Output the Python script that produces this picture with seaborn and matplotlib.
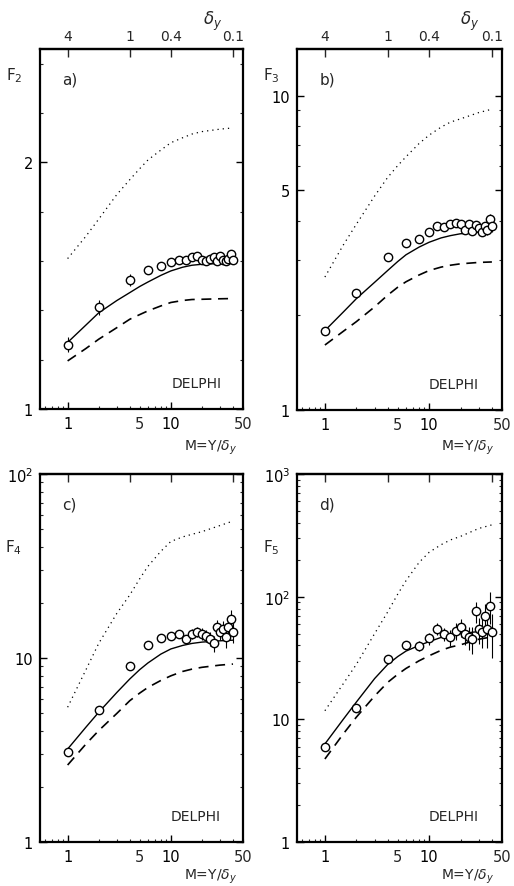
import numpy as np
import pandas as pd
import matplotlib
matplotlib.use("Agg")
import matplotlib.pyplot as plt
import matplotlib.ticker as mticker
import seaborn as sns

sns.set_style("ticks")
plt.rcParams['font.family'] = ['DejaVu Sans']
plt.rcParams['mathtext.fontset'] = 'dejavusans'

# ---------------- data ----------------
M_data = [1, 2, 4, 6, 8, 10, 12, 14, 16, 18, 20, 22, 24, 26, 28, 30, 32, 34, 36, 38, 40]
M_curve = [1, 1.5, 2, 3, 4, 5, 6, 8, 10, 13, 16, 20, 30, 40]

F2_data = [1.26, 1.412, 1.522, 1.564, 1.58, 1.596, 1.606, 1.606, 1.615, 1.62, 1.605,
           1.60, 1.61, 1.615, 1.60, 1.62, 1.605, 1.60, 1.61, 1.63, 1.605]
F2_err = [0.03, 0.03, 0.025, 0.01, 0.01, 0.01, 0.01, 0.01, 0.01, 0.01, 0.01,
          0.01, 0.01, 0.01, 0.012, 0.012, 0.012, 0.012, 0.013, 0.013, 0.013]
F2_solid = [1.27, 1.34, 1.39, 1.44, 1.472, 1.497, 1.515, 1.542, 1.56, 1.575, 1.583, 1.587, 1.59, 1.59]
F2_dashed = [1.195, 1.245, 1.283, 1.33, 1.364, 1.383, 1.398, 1.418, 1.432, 1.44, 1.444, 1.445, 1.447, 1.448]
F2_dotted = [1.61, 1.70, 1.77, 1.87, 1.93, 1.975, 2.01, 2.05, 2.08, 2.10, 2.115, 2.125, 2.135, 2.14]

F3_data = [1.78, 2.36, 3.07, 3.41, 3.51, 3.70, 3.85, 3.82, 3.92, 3.95, 3.92,
           3.75, 3.90, 3.72, 3.88, 3.80, 3.70, 3.85, 3.75, 4.06, 3.85]
F3_err = [0.03, 0.04, 0.05, 0.06, 0.07, 0.07, 0.08, 0.08, 0.09, 0.09, 0.1,
          0.1, 0.11, 0.11, 0.12, 0.12, 0.13, 0.13, 0.14, 0.15, 0.15]
F3_solid = [1.79, 2.05, 2.26, 2.55, 2.78, 2.97, 3.12, 3.3, 3.42, 3.53, 3.59, 3.64, 3.68, 3.70]
F3_dashed = [1.61, 1.78, 1.91, 2.13, 2.32, 2.46, 2.56, 2.69, 2.78, 2.85, 2.89, 2.92, 2.95, 2.96]
F3_dotted = [2.65, 3.35, 3.9, 4.8, 5.5, 6.0, 6.4, 7.05, 7.5, 7.95, 8.25, 8.45, 8.85, 9.07]

F4_data = [3.07, 5.22, 9.0, 11.8, 12.8, 13.2, 13.5, 12.7, 13.5, 13.9, 13.5,
           13.2, 12.7, 12.0, 14.7, 13.9, 14.3, 13.0, 14.8, 16.3, 13.8]
F4_err = [0.1, 0.15, 0.25, 0.35, 0.45, 0.5, 0.6, 0.7, 0.8, 0.9, 1.0,
          1.0, 1.1, 1.2, 1.3, 1.4, 1.5, 1.6, 1.7, 1.9, 1.8]
F4_solid = [3.2, 4.2, 5.07, 6.5, 7.69, 8.65, 9.4, 10.5, 11.2, 11.7, 12.0, 12.2, 12.4, 12.5]
F4_dashed = [2.62, 3.4, 4.03, 5.0, 5.86, 6.45, 6.92, 7.55, 8.0, 8.45, 8.7, 8.9, 9.15, 9.27]
F4_dotted = [5.4, 8.6, 12.0, 17.5, 22, 27, 31.5, 38, 43, 45.5, 47, 48.6, 52.5, 55.5]

F5_data = [5.9, 12.3, 31, 40.5, 39.8, 45.7, 54.5, 49.6, 46.5, 52.7, 56.2,
           49.6, 47, 45.1, 75.9, 54.5, 52, 69.8, 54.5, 84.3, 51.8]
F5_err = [0.3, 0.6, 2, 3, 4, 5, 6, 6, 7, 8, 9,
          9, 10, 11, 15, 13, 14, 17, 16, 24, 20]
F5_solid = [6.3, 10.0, 13.8, 21.5, 28, 32.5, 36, 40, 43, 46.5, 48.5, 50, 52, 53]
F5_dashed = [4.75, 7.6, 10.4, 15.5, 20, 23.3, 26, 30, 33, 36.5, 38.8, 40.5, 45, 47]
F5_dotted = [11.75, 19.5, 28, 50, 75, 105, 135, 190, 230, 265, 290, 310, 360, 385]

bottom_major = [1, 10]
bottom_labels = {1: '1', 5: '5', 10: '10', 50: '50'}
bottom_minor = [0.6, 0.7, 0.8, 0.9, 2, 3, 4, 5, 6, 7, 8, 9, 20, 30, 40, 50]
delta_pos = [1, 4, 10, 40]          # M positions of delta_y ticks (Y = 4)
delta_labels = ['4', '1', '0.4', '0.1']

panels = [
    dict(tag='a)', data=F2_data, err=F2_err, solid=F2_solid, dashed=F2_dashed,
         dotted=F2_dotted, yscale='linear', ylim=(1, 2.46), yt=[1, 2], ytl=['1', '2'],
         minor=[1.2, 1.4, 1.6, 1.8, 2.2, 2.4], top_labels=True, delphi_x=0.897),
    dict(tag='b)', data=F3_data, err=F3_err, solid=F3_solid, dashed=F3_dashed,
         dotted=F3_dotted, yscale='log', ylim=(1, 14.1), yt=[1, 5, 10], ytl=['1', '5', '10'],
         minor=[2, 3, 4, 6, 7, 8, 9], top_labels=True, delphi_x=0.888),
    dict(tag='c)', data=F4_data, err=F4_err, solid=F4_solid, dashed=F4_dashed,
         dotted=F4_dotted, yscale='log', ylim=(1, 100), yt=[1, 10, 100],
         ytl=['1', '10', '10$^2$'],
         minor=[2, 3, 4, 5, 6, 7, 8, 9, 20, 30, 40, 50, 60, 70, 80, 90], top_labels=False,
         delphi_x=0.89),
    dict(tag='d)', data=F5_data, err=F5_err, solid=F5_solid, dashed=F5_dashed,
         dotted=F5_dotted, yscale='log', ylim=(1, 1000), yt=[1, 10, 100, 1000],
         ytl=['1', '10', '10$^2$', '10$^3$'],
         minor=[2, 3, 4, 5, 6, 7, 8, 9, 20, 30, 40, 50, 60, 70, 80, 90,
                200, 300, 400, 500, 600, 700, 800, 900], top_labels=False, delphi_x=0.888),
]

# ---------------- figure ----------------
W, H = 514, 887
fig = plt.figure(figsize=(W / 100, H / 100), dpi=100)
fig.patch.set_facecolor('white')

def fx(px):
    return px / W

def fy(py):
    return 1 - py / H

def bottom_fmt(v, pos):
    for k, s in bottom_labels.items():
        if abs(v - k) < 1e-6 * k:
            return s
    return ''

# axes boxes in pixels (left, top, right, bottom)
boxes = [(40, 50, 243, 410), (297, 50, 502, 411), (40, 475, 243, 843), (297, 475, 502, 843)]

for p, (l, t, r, b) in zip(panels, boxes):
    ax = fig.add_axes([fx(l), fy(b), fx(r) - fx(l), fy(t) - fy(b)])
    ax.set_xscale('log')
    ax.set_yscale(p['yscale'])

    sol = pd.DataFrame({'M': M_curve, 'F': p['solid']})
    das = pd.DataFrame({'M': M_curve, 'F': p['dashed']})
    dot = pd.DataFrame({'M': M_curve, 'F': p['dotted']})
    sns.lineplot(data=sol, x='M', y='F', ax=ax, color='black', lw=1.0, legend=False)
    sns.lineplot(data=das, x='M', y='F', ax=ax, color='black', lw=1.2, legend=False,
                 linestyle=(0, (6, 4)))
    sns.lineplot(data=dot, x='M', y='F', ax=ax, color='black', lw=0.9, legend=False,
                 linestyle=(0, (1, 3.2)))

    pts = pd.DataFrame({'M': M_data, 'F': p['data'], 'e': p['err']})
    ax.errorbar(pts.M, pts.F, yerr=pts.e, fmt='none', ecolor='black', elinewidth=0.8,
                capsize=0, zorder=3)
    sns.scatterplot(data=pts, x='M', y='F', ax=ax, marker='o', s=36,
                    facecolor='white', edgecolor='black', linewidth=1.0, zorder=4)

    ax.set_xlim(0.54, 50)
    ax.set_ylim(*p['ylim'])
    ax.set_xlabel('')
    ax.set_ylabel('')

    ax.xaxis.set_major_locator(mticker.FixedLocator(bottom_major))
    ax.xaxis.set_major_formatter(mticker.FuncFormatter(bottom_fmt))
    ax.xaxis.set_minor_locator(mticker.FixedLocator(bottom_minor))
    ax.xaxis.set_minor_formatter(mticker.FuncFormatter(bottom_fmt))
    ax.yaxis.set_major_locator(mticker.FixedLocator(p['yt']))
    ax.yaxis.set_major_formatter(mticker.FixedFormatter(p['ytl']))
    ax.yaxis.set_minor_locator(mticker.FixedLocator(p['minor']))
    ax.yaxis.set_minor_formatter(mticker.NullFormatter())

    ax.tick_params(axis='both', which='major', direction='in', length=5, width=1.0,
                   labelsize=10.5, colors='black', pad=5)
    ax.tick_params(axis='both', which='minor', direction='in', length=2.5, width=0.8)
    ax.tick_params(axis='x', which='minor', labelsize=10.5, pad=5)
    ax.tick_params(axis='y', which='both', left=True, right=True)
    ax.tick_params(axis='x', which='both', bottom=True, top=False)
    for s in ax.spines.values():
        s.set_linewidth(1.6)
        s.set_color('black')

    sec = ax.secondary_xaxis('top')
    sec.set_xscale('log')
    sec.xaxis.set_major_locator(mticker.FixedLocator(delta_pos))
    sec.xaxis.set_minor_locator(mticker.NullLocator())
    if p['top_labels']:
        sec.xaxis.set_major_formatter(mticker.FixedFormatter(delta_labels))
    else:
        sec.xaxis.set_major_formatter(mticker.NullFormatter())
    sec.tick_params(axis='x', direction='in', length=6, width=1.0, labelsize=10, pad=4)
    sec.spines['top'].set_linewidth(1.6)

    ax.text(0.11, 0.905, p['tag'], transform=ax.transAxes, fontsize=11)
    ax.text(p['delphi_x'], 0.072, 'DELPHI', transform=ax.transAxes, fontsize=10,
            ha='right', va='center')

# outer texts
fig.text(fx(14), fy(76), 'F$_2$', fontsize=11, ha='center', va='center')
fig.text(fx(271), fy(76), 'F$_3$', fontsize=11, ha='center', va='center')
fig.text(fx(14), fy(548), 'F$_4$', fontsize=11, ha='center', va='center')
fig.text(fx(271), fy(548), 'F$_5$', fontsize=11, ha='center', va='center')
fig.text(fx(213), fy(21), r'$\delta_y$', fontsize=12, ha='center', va='center')
fig.text(fx(470), fy(21), r'$\delta_y$', fontsize=12, ha='center', va='center')
for x0, y0 in [(211, 448), (468, 448), (211, 877), (468, 877)]:
    fig.text(fx(x0), fy(y0), r'M=Y/$\delta_y$', fontsize=10, ha='center', va='center')

fig.savefig('out.png', dpi=100, facecolor='white')
